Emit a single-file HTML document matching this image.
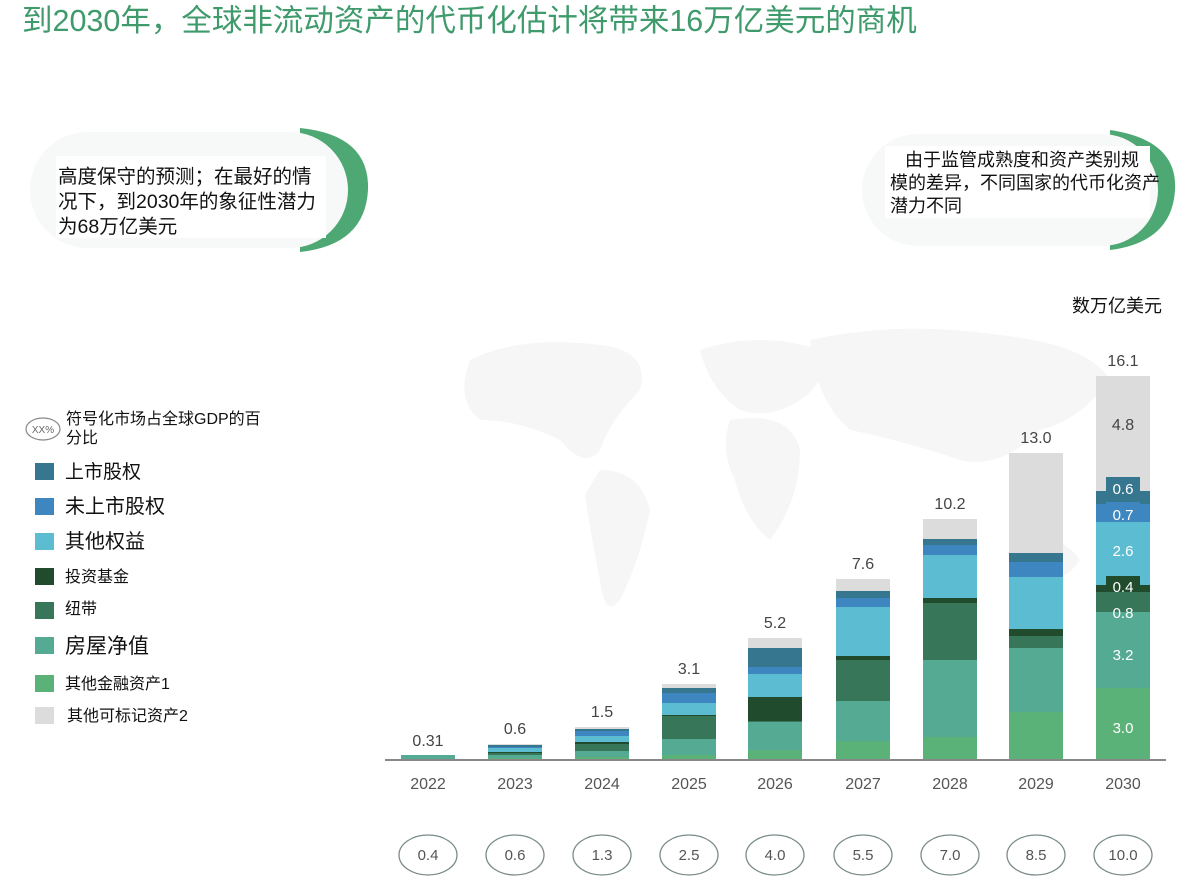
<!DOCTYPE html>
<html><head><meta charset="utf-8"><style>
html,body{margin:0;padding:0;background:#fff;}
body{width:1200px;height:892px;overflow:hidden;position:relative;font-family:"Liberation Sans","Noto Sans CJK SC",sans-serif;}
</style></head><body>
<svg width="1200" height="892" xmlns="http://www.w3.org/2000/svg" style="position:absolute;left:0;top:0" font-family="Liberation Sans, Noto Sans CJK SC, sans-serif">
<g fill="#f6f6f6">
<path d="M470 360 Q520 335 600 345 Q650 350 640 390 Q610 420 600 450 Q585 470 560 440 Q520 420 480 420 Q455 400 470 360Z"/>
<path d="M600 470 Q640 470 650 510 Q640 560 620 600 Q605 620 600 580 Q590 530 585 495Z"/>
<path d="M700 350 Q760 330 820 350 Q830 380 800 400 Q770 420 740 410 Q710 390 700 350Z"/>
<path d="M730 420 Q790 410 800 450 Q800 500 770 540 Q745 520 735 480 Q720 450 730 420Z"/>
<path d="M810 340 Q900 320 1000 335 Q1090 345 1110 380 Q1080 420 1040 430 Q1000 470 960 460 Q900 440 850 430 Q815 400 810 340Z"/>
<path d="M1010 540 Q1060 530 1080 560 Q1060 590 1020 580Z"/>
</g>
<text x="22" y="31" font-size="30.5" fill="#3f9a6c">到2030年，全球非流动资产的代币化估计将带来16万亿美元的商机</text>
<path d="M300 128 Q370 135 368 190 Q365 245 300 252 Z" fill="#4ea874"/>
<rect x="30" y="132" width="318" height="116" rx="58" fill="#f7f8f8"/>
<rect x="56" y="156" width="270" height="82" fill="#fff"/>
<g font-size="19.5" fill="#111"><text x="58" y="183">高度保守的预测；在最好的情</text><text x="58" y="208">况下，到2030年的象征性潜力</text><text x="58" y="233">为68万亿美元</text></g>
<path d="M1110 130 Q1178 140 1175 190 Q1172 242 1110 250 Z" fill="#4ea874"/>
<rect x="862" y="134" width="296" height="112" rx="56" fill="#f7f8f8"/>
<rect x="885" y="146" width="265" height="72" fill="#fff"/>
<g font-size="18" fill="#111"><text x="905" y="166">由于监管成熟度和资产类别规</text><text x="890" y="189">模的差异，不同国家的代币化资产</text><text x="890" y="212">潜力不同</text></g>
<text x="1072" y="312" font-size="18" fill="#111">数万亿美元</text>
<ellipse cx="43" cy="429" rx="17" ry="11" fill="none" stroke="#888" stroke-width="1.2"/>
<text x="43" y="433" font-size="10" fill="#666" text-anchor="middle">XX%</text>
<text x="66" y="424" font-size="16" fill="#111">符号化市场占全球GDP的百</text>
<text x="66" y="443" font-size="16" fill="#111">分比</text>
<g>
<rect x="35" y="463" width="19" height="17" fill="#36778f"/><text x="65" y="478" font-size="19" fill="#111">上市股权</text>
<rect x="35" y="498" width="19" height="17" fill="#3e86c0"/><text x="65" y="513" font-size="20" fill="#111">未上市股权</text>
<rect x="35" y="533" width="19" height="17" fill="#5bbcd2"/><text x="65" y="548" font-size="20" fill="#111">其他权益</text>
<rect x="35" y="568" width="19" height="17" fill="#204c2d"/><text x="65" y="582" font-size="16" fill="#111">投资基金</text>
<rect x="35" y="602" width="19" height="17" fill="#377658"/><text x="65" y="614" font-size="16" fill="#111">纽带</text>
<rect x="35" y="637" width="19" height="17" fill="#55aa93"/><text x="65" y="653" font-size="21" fill="#111">房屋净值</text>
<rect x="35" y="675" width="19" height="17" fill="#5bb278"/><text x="65" y="689" font-size="16" fill="#111">其他金融资产1</text>
<rect x="35" y="707" width="19" height="17" fill="#dcdcdc"/><text x="67" y="721" font-size="16" fill="#111">其他可标记资产2</text>
</g>
<g>
<rect x="401" y="755" width="54" height="5" fill="#55aa93"/>
<rect x="488" y="744" width="54" height="1" fill="#dcdcdc"/><rect x="488" y="745" width="54" height="2" fill="#36778f"/><rect x="488" y="747" width="54" height="1" fill="#3e86c0"/><rect x="488" y="748" width="54" height="4" fill="#5bbcd2"/><rect x="488" y="752" width="54" height="1" fill="#204c2d"/><rect x="488" y="753" width="54" height="2" fill="#377658"/><rect x="488" y="755" width="54" height="3" fill="#55aa93"/><rect x="488" y="758" width="54" height="2" fill="#5bb278"/>
<rect x="575" y="727" width="54" height="2" fill="#dcdcdc"/><rect x="575" y="729" width="54" height="2" fill="#36778f"/><rect x="575" y="731" width="54" height="5" fill="#3e86c0"/><rect x="575" y="736" width="54" height="6" fill="#5bbcd2"/><rect x="575" y="742" width="54" height="2" fill="#204c2d"/><rect x="575" y="744" width="54" height="7" fill="#377658"/><rect x="575" y="751" width="54" height="6" fill="#55aa93"/><rect x="575" y="757" width="54" height="3" fill="#5bb278"/>
<rect x="662" y="684" width="54" height="4" fill="#dcdcdc"/><rect x="662" y="688" width="54" height="5" fill="#36778f"/><rect x="662" y="693" width="54" height="10" fill="#3e86c0"/><rect x="662" y="703" width="54" height="12" fill="#5bbcd2"/><rect x="662" y="715" width="54" height="1" fill="#204c2d"/><rect x="662" y="716" width="54" height="23" fill="#377658"/><rect x="662" y="739" width="54" height="16" fill="#55aa93"/><rect x="662" y="755" width="54" height="5" fill="#5bb278"/>
<rect x="748" y="638" width="54" height="10" fill="#dcdcdc"/><rect x="748" y="648" width="54" height="19" fill="#36778f"/><rect x="748" y="667" width="54" height="7" fill="#3e86c0"/><rect x="748" y="674" width="54" height="23" fill="#5bbcd2"/><rect x="748" y="697" width="54" height="24" fill="#204c2d"/><rect x="748" y="721" width="54" height="1" fill="#377658"/><rect x="748" y="722" width="54" height="28" fill="#55aa93"/><rect x="748" y="750" width="54" height="10" fill="#5bb278"/>
<rect x="836" y="579" width="54" height="12" fill="#dcdcdc"/><rect x="836" y="591" width="54" height="7" fill="#36778f"/><rect x="836" y="598" width="54" height="9" fill="#3e86c0"/><rect x="836" y="607" width="54" height="49" fill="#5bbcd2"/><rect x="836" y="656" width="54" height="4" fill="#204c2d"/><rect x="836" y="660" width="54" height="41" fill="#377658"/><rect x="836" y="701" width="54" height="40" fill="#55aa93"/><rect x="836" y="741" width="54" height="19" fill="#5bb278"/>
<rect x="923" y="519" width="54" height="20" fill="#dcdcdc"/><rect x="923" y="539" width="54" height="6" fill="#36778f"/><rect x="923" y="545" width="54" height="10" fill="#3e86c0"/><rect x="923" y="555" width="54" height="43" fill="#5bbcd2"/><rect x="923" y="598" width="54" height="5" fill="#204c2d"/><rect x="923" y="603" width="54" height="57" fill="#377658"/><rect x="923" y="660" width="54" height="77" fill="#55aa93"/><rect x="923" y="737" width="54" height="23" fill="#5bb278"/>
<rect x="1009" y="453" width="54" height="100" fill="#dcdcdc"/><rect x="1009" y="553" width="54" height="9" fill="#36778f"/><rect x="1009" y="562" width="54" height="15" fill="#3e86c0"/><rect x="1009" y="577" width="54" height="52" fill="#5bbcd2"/><rect x="1009" y="629" width="54" height="7" fill="#204c2d"/><rect x="1009" y="636" width="54" height="12" fill="#377658"/><rect x="1009" y="648" width="54" height="64" fill="#55aa93"/><rect x="1009" y="712" width="54" height="48" fill="#5bb278"/>
<rect x="1096" y="376" width="54" height="115" fill="#dcdcdc"/><rect x="1096" y="491" width="54" height="13" fill="#36778f"/><rect x="1106" y="477" width="34" height="22" fill="#36778f"/><rect x="1096" y="504" width="54" height="18" fill="#3e86c0"/><rect x="1106" y="502" width="34" height="24" fill="#3e86c0"/><rect x="1096" y="522" width="54" height="63" fill="#5bbcd2"/><rect x="1096" y="585" width="54" height="7" fill="#204c2d"/><rect x="1106" y="576" width="34" height="22" fill="#204c2d"/><rect x="1096" y="592" width="54" height="20" fill="#377658"/><rect x="1106" y="598" width="34" height="26" fill="#377658"/><rect x="1096" y="612" width="54" height="76" fill="#55aa93"/><rect x="1096" y="688" width="54" height="72" fill="#5bb278"/>
</g>
<line x1="385" y1="760" x2="1166" y2="760" stroke="#888" stroke-width="2"/>
<g font-size="16" fill="#444" text-anchor="middle">
<text x="428" y="746">0.31</text><text x="515" y="734">0.6</text><text x="602" y="717">1.5</text><text x="689" y="674">3.1</text><text x="775" y="628">5.2</text><text x="863" y="569">7.6</text><text x="950" y="509">10.2</text><text x="1036" y="443">13.0</text><text x="1123" y="366">16.1</text>
<text x="1123" y="430">4.8</text>
</g>
<g font-size="15" fill="#fff" text-anchor="middle">
<text x="1123" y="494">0.6</text><text x="1123" y="520">0.7</text><text x="1123" y="556">2.6</text><text x="1123" y="592">0.4</text><text x="1123" y="618">0.8</text><text x="1123" y="660">3.2</text><text x="1123" y="733">3.0</text>
</g>
<g font-size="16" fill="#555" text-anchor="middle">
<text x="428" y="789">2022</text><text x="515" y="789">2023</text><text x="602" y="789">2024</text><text x="689" y="789">2025</text><text x="775" y="789">2026</text><text x="863" y="789">2027</text><text x="950" y="789">2028</text><text x="1036" y="789">2029</text><text x="1123" y="789">2030</text>
</g>
<g fill="none" stroke="#7a8a8a" stroke-width="1.3">
<ellipse cx="428" cy="855" rx="29" ry="20"/><ellipse cx="515" cy="855" rx="29" ry="20"/><ellipse cx="602" cy="855" rx="29" ry="20"/><ellipse cx="689" cy="855" rx="29" ry="20"/><ellipse cx="775" cy="855" rx="29" ry="20"/><ellipse cx="863" cy="855" rx="29" ry="20"/><ellipse cx="950" cy="855" rx="29" ry="20"/><ellipse cx="1036" cy="855" rx="29" ry="20"/><ellipse cx="1123" cy="855" rx="29" ry="20"/>
</g>
<g font-size="15" fill="#555" text-anchor="middle">
<text x="428" y="860">0.4</text><text x="515" y="860">0.6</text><text x="602" y="860">1.3</text><text x="689" y="860">2.5</text><text x="775" y="860">4.0</text><text x="863" y="860">5.5</text><text x="950" y="860">7.0</text><text x="1036" y="860">8.5</text><text x="1123" y="860">10.0</text>
</g>
</svg>
</body></html>
